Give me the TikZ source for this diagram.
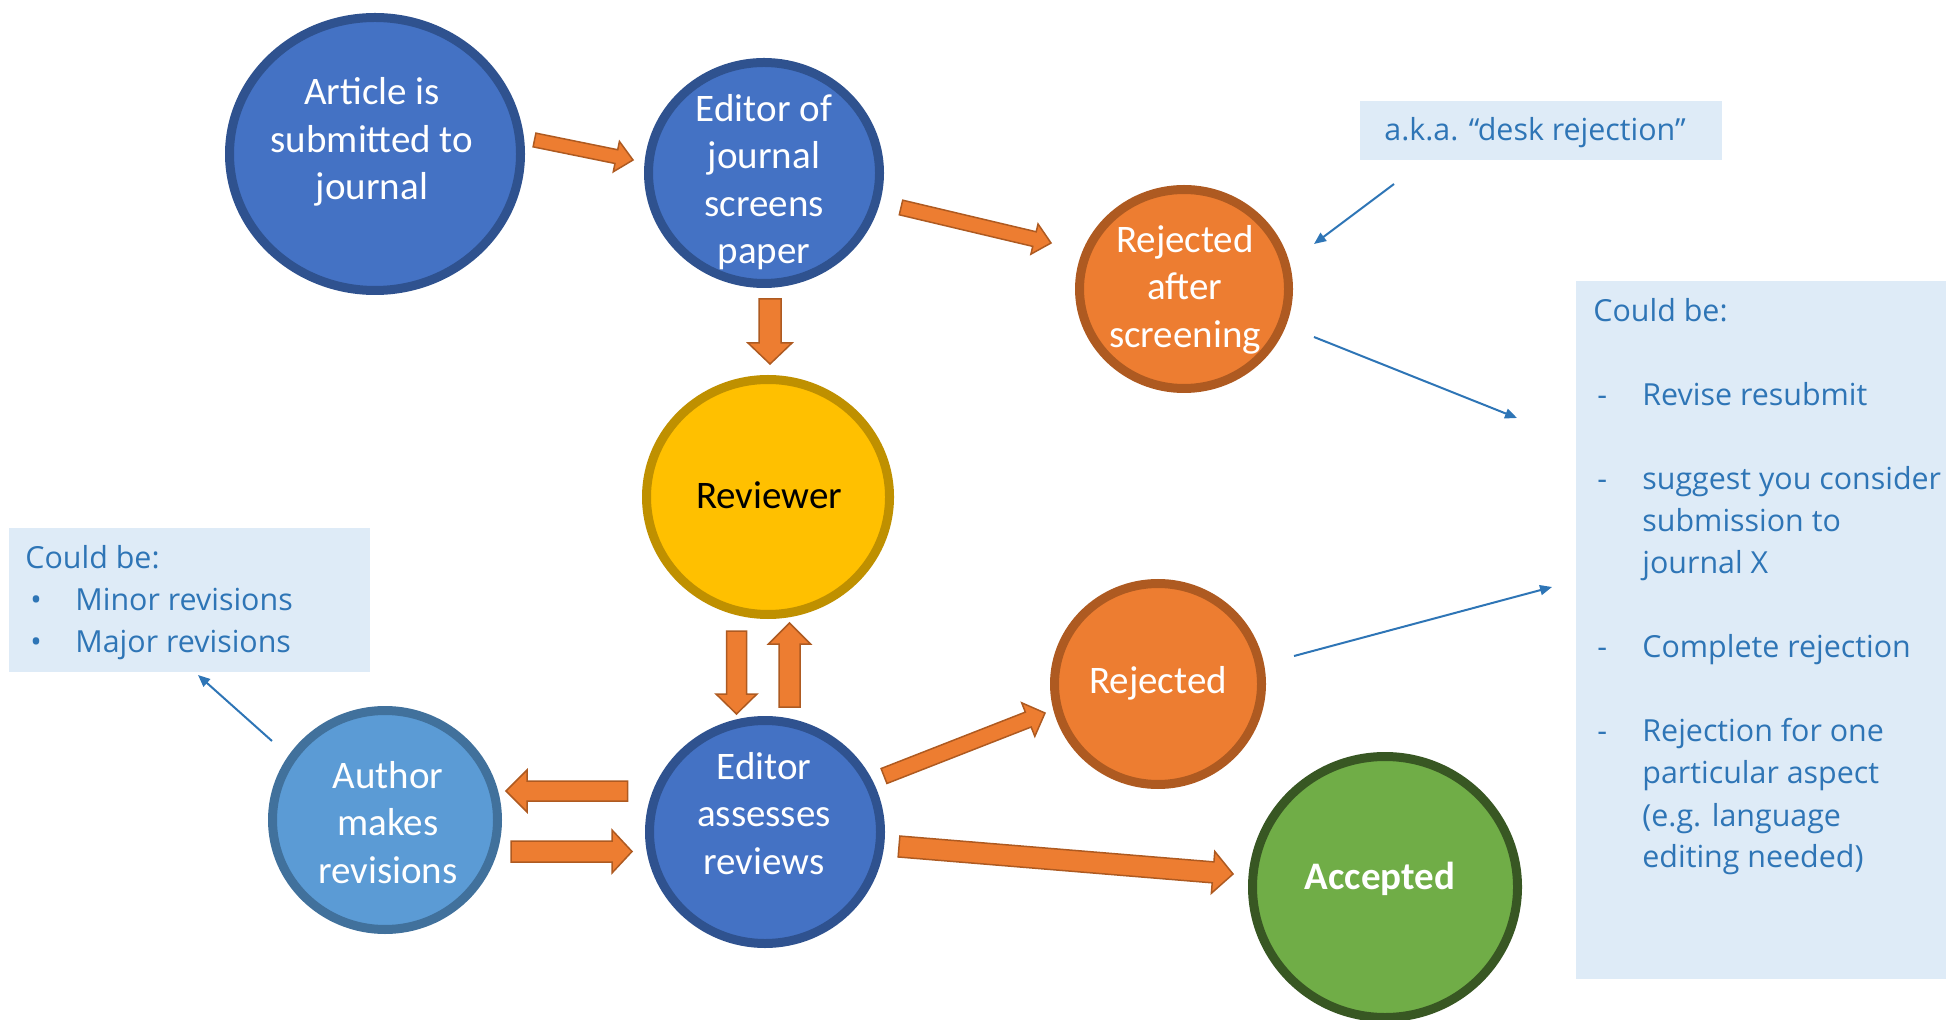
\documentclass[tikz,border=0pt]{standalone}
\usepackage{fontspec}
\setmainfont{Carlito}
\newfontfamily\boxfont{Open Sans}
\usetikzlibrary{calc,shapes.geometric,arrows.meta}
\definecolor{blueF}{HTML}{4472C4}
\definecolor{blueD}{HTML}{2F528F}
\definecolor{lblueF}{HTML}{5B9BD5}
\definecolor{lblueD}{HTML}{41719C}
\definecolor{orF}{HTML}{ED7D31}
\definecolor{orD}{HTML}{AE5A21}
\definecolor{yelF}{HTML}{FFC000}
\definecolor{yelD}{HTML}{BF9000}
\definecolor{grF}{HTML}{70AD47}
\definecolor{grD}{HTML}{385723}
\definecolor{boxF}{HTML}{DEEBF7}
\definecolor{txtB}{HTML}{2E75B6}
% block arrow: #1 start, #2 tip, #3 half shaft, #4 half head, #5 head length
\newcommand\blkarr[5]{%
  \coordinate (bkH) at ($(#2)!#5!(#1)$);
  \draw[blk] ($(#1)!#3!90:(#2)$) -- ($(bkH)!#3!90:(#2)$) -- ($(bkH)!#4!90:(#2)$) -- (#2)
    -- ($(bkH)!#4!-90:(#2)$) -- ($(bkH)!#3!-90:(#2)$) -- ($(#1)!#3!-90:(#2)$) -- cycle;}
\begin{document}
\begin{tikzpicture}[x=0.5pt,y=-0.5pt,
  bub/.style={ellipse, line width=4.5pt, inner sep=0pt},
  ctext/.style={align=center, font=\fontsize{19.5}{23.75}\selectfont, text=white, inner sep=0pt},
  btext/.style={font=\boxfont\fontsize{15.2}{21}\selectfont, text=txtB, inner sep=0pt, anchor=base west},
  note/.style={fill=boxF},
  blk/.style={fill=orF, draw=orD, line width=0.75pt, line join=miter},
  thinarr/.style={draw=txtB, line width=1pt, -{Triangle[length=6pt,width=5pt]}}]
\useasboundingbox (0,0) rectangle (1946,1020);
\clip (0,0) rectangle (1946,1020);

% note boxes
\fill[note] (1360,101) rectangle (1722,160);
\fill[note] (1576,281) rectangle (1946,979);
\fill[note] (9,528) rectangle (370,672);

% circles
\node[bub, fill=blueF, draw=blueD, minimum width=145.5pt, minimum height=136.5pt] (art) at (375,154) {};
\node[bub, fill=blueF, draw=blueD, minimum width=115.5pt, minimum height=110.5pt] (eds) at (764,173) {};
\node[bub, fill=orF, draw=orD, minimum width=104.5pt, minimum height=99.5pt] (rjs) at (1184,289) {};
\node[bub, fill=yelF, draw=yelD, minimum width=121.5pt, minimum height=117.5pt] (rev) at (768,497) {};
\node[bub, fill=orF, draw=orD, minimum width=103.5pt, minimum height=100.5pt] (rej) at (1158,684) {};
\node[bub, fill=lblueF, draw=lblueD, minimum width=112.5pt, minimum height=109.5pt] (aut) at (385,820) {};
\node[bub, fill=blueF, draw=blueD, minimum width=115.5pt, minimum height=111.5pt] (eda) at (765,832) {};
\node[bub, fill=grF, draw=grD, minimum width=132.5pt, minimum height=130.5pt] (acc) at (1385,887) {};

% circle texts
\node[ctext] (art-t) at (372,142) {Article is\\submitted to\\journal};
\node[ctext] (eds-t) at (764,182) {Editor of\\journal\\screens\\paper};
\node[ctext] (rjs-t) at (1185,289.5) {Rejected\\after\\screening};
\node[ctext, text=black] (rev-t) at (769,495) {Reviewer};
\node[ctext] (rej-t) at (1158,683.5) {Rejected};
\node[ctext] (aut-t) at (388,822.5) {Author\\makes\\revisions};
\node[ctext] (eda-t) at (764,813.5) {Editor\\assesses\\reviews};
\node[ctext, font=\bfseries\fontsize{19.5}{23.75}\selectfont] (acc-t) at (1380,878.5) {Accepted};

% orange block arrows
\coordinate (o1s) at (534.5,140);  \coordinate (o1e) at (633,160);
\coordinate (o2s) at (901,207.5);  \coordinate (o2e) at (1051,243);
\coordinate (o3s) at (770,299);    \coordinate (o3e) at (770,364);
\coordinate (o4s) at (736.5,631);  \coordinate (o4e) at (736.5,714);
\coordinate (o5s) at (789.5,707);  \coordinate (o5e) at (789.5,623);
\coordinate (o6s) at (627.5,791);  \coordinate (o6e) at (506,791);
\coordinate (o7s) at (511,851.5);  \coordinate (o7e) at (632,851.5);
\coordinate (o8s) at (884,776);    \coordinate (o8e) at (1045,713);
\coordinate (o9s) at (899,846.5);  \coordinate (o9e) at (1233,874);
\blkarr{o1s}{o1e}{3.5pt}{7.75pt}{8.5pt}
\blkarr{o2s}{o2e}{3.75pt}{7.75pt}{8.5pt}
\blkarr{o3s}{o3e}{5.5pt}{11pt}{10.5pt}
\blkarr{o4s}{o4e}{5pt}{10.25pt}{10pt}
\blkarr{o5s}{o5e}{5.25pt}{10.5pt}{10.5pt}
\blkarr{o6s}{o6e}{5pt}{10.5pt}{10.5pt}
\blkarr{o7s}{o7e}{5.25pt}{10.75pt}{10pt}
\blkarr{o8s}{o8e}{4pt}{9pt}{9pt}
\blkarr{o9s}{o9e}{5.25pt}{10.5pt}{10pt}

% thin blue arrows
\coordinate (b1s) at (1394,184); \coordinate (b1e) at (1314,244);
\coordinate (b2s) at (1314,337); \coordinate (b2e) at (1517,418);
\coordinate (b3s) at (1294,656); \coordinate (b3e) at (1552,587);
\coordinate (b4s) at (272,741);  \coordinate (b4e) at (198,675);
\draw[thinarr] (b1s) -- (b1e);
\draw[thinarr] (b2s) -- (b2e);
\draw[thinarr] (b3s) -- (b3e);
\draw[thinarr] (b4s) -- (b4e);

% note texts
\node[btext] (aka) at (1384,141) {a.k.a. “desk rejection”};
\node[btext] (rbt) at (1593,322) {\begin{tabular}[t]{@{}p{24.5pt}@{}l@{}}
\multicolumn{2}{@{}l@{}}{Could be:}\\
 & \\
\hspace*{2pt}- & Revise resubmit\\
 & \\
\hspace*{2pt}- & suggest you consider\\
 & submission to\\
 & journal X\\
 & \\
\hspace*{2pt}- & Complete rejection\\
 & \\
\hspace*{2pt}- & Rejection for one\\
 & particular aspect\\
 & (e.g. language\\
 & editing needed)
\end{tabular}};
\node[btext] (lbt) at (25,568) {\begin{tabular}[t]{@{}p{25pt}@{}l@{}}
\multicolumn{2}{@{}l@{}}{Could be:}\\
\hspace*{2.5pt}• & Minor revisions\\
\hspace*{2.5pt}• & Major revisions
\end{tabular}};
\end{tikzpicture}
\end{document}
